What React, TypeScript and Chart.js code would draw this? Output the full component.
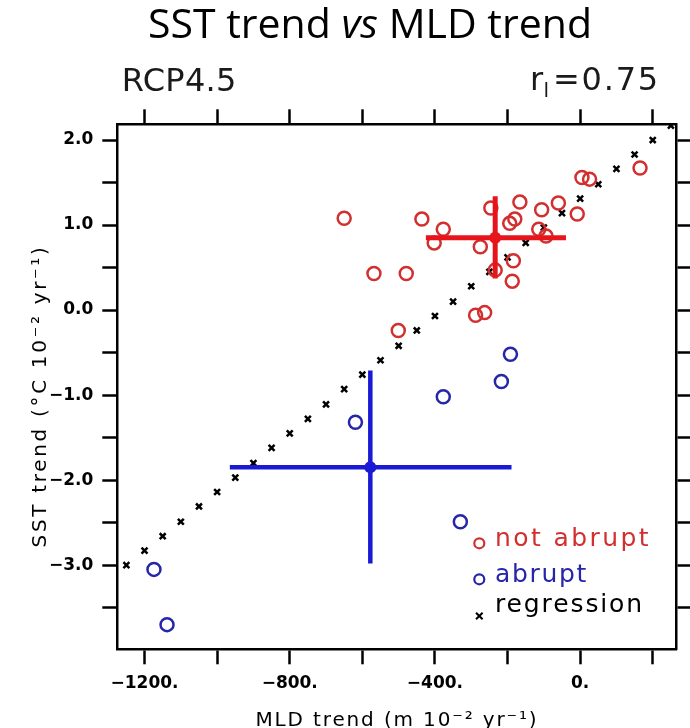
import React, { useEffect, useRef } from 'react';
import { Chart, registerables } from 'chart.js';

Chart.register(...registerables);

// ---------- data ----------
const titleParts = ['SST trend ', 'vs', ' MLD trend'];
const leftLabel = 'RCP4.5';
const rightLabelMain = 'r';
const rightLabelSub = 'l';
const rightLabelRest = '=0.75';
const xAxisTitle = 'MLD trend (m 10⁻² yr⁻¹)';
const yAxisTitle = 'SST trend (°C 10⁻² yr⁻¹)';
const legendLabels = ['not abrupt', 'abrupt', 'regression'];

const regressionX = [-1250, -1200, -1150, -1100, -1050, -1000, -950, -900, -850, -800, -750, -700, -650, -600, -550, -500, -450, -400, -350, -300, -250, -200, -150, -100, -50, 0, 50, 100, 150, 200, 250];
const regressionY = [-3.0, -2.83, -2.66, -2.49, -2.31, -2.14, -1.97, -1.8, -1.62, -1.45, -1.28, -1.11, -0.93, -0.76, -0.59, -0.42, -0.24, -0.07, 0.1, 0.28, 0.45, 0.62, 0.79, 0.97, 1.14, 1.31, 1.48, 1.66, 1.83, 2.0, 2.17];

const notAbruptX = [-650, -436, -377, -402, -275, -246, -166, -194, -180, -106, -60, -8, -114, -94, 5, 26, 165, -184, -234, -187, -568, -479, -288, -263, -501];
const notAbruptY = [1.08, 1.07, 0.95, 0.79, 0.745, 1.2, 1.27, 1.02, 1.07, 1.18, 1.26, 1.13, 0.95, 0.87, 1.56, 1.54, 1.67, 0.58, 0.47, 0.34, 0.43, 0.43, -0.06, -0.03, -0.24];

const abruptX = [-192, -217, -377, -619, -330, -1174, -1138];
const abruptY = [-0.52, -0.84, -1.02, -1.32, -2.49, -3.05, -3.7];

const notAbruptMean = [-234, 0.85];
const notAbruptXRange = [-425, -39];
const notAbruptYRange = [0.37, 1.34];
const abruptMean = [-578, -1.85];
const abruptXRange = [-965, -189];
const abruptYRange = [-2.98, -0.71];

const xRange = [-1275, 266];
const yRange = [-3.99, 2.185];
const xTickValues = [-1200, -1000, -800, -600, -400, -200, 0, 200];
const xLabelValues = [-1200, -800, -400, 0];
const yTickValues = [-3.5, -3, -2.5, -2, -1.5, -1, -0.5, 0, 0.5, 1, 1.5, 2];
const yLabelValues = [-3, -2, -1, 0, 1, 2];

// ---------- styles ----------
const RED_CIRCLE = '#d23030';
const RED_BAR = '#e8141c';
const BLUE_CIRCLE = '#2626a8';
const BLUE_BAR = '#1a1ad6';
const NCL_FONT = '"DejaVu Sans", sans-serif';

const pts = (xs: number[], ys: number[]) => xs.map((x, i) => ({ x, y: ys[i] }));
const fmtX = (v: number) => (v < 0 ? '\u2212' : '') + Math.abs(v) + '.';
const fmtY = (v: number) => (v < 0 ? '\u2212' : '') + Math.abs(v).toFixed(1);

function drawSpaced(ctx: CanvasRenderingContext2D, text: string, x: number, y: number, target: number, align: 'left' | 'center' | 'right') {
  (ctx as any).letterSpacing = '0px';
  const w = ctx.measureText(text).width;
  const n = Array.from(text).length;
  const ls = target > 0 ? Math.max(0, (target - w) / n) : 0;
  (ctx as any).letterSpacing = ls + 'px';
  const tw = target > 0 ? Math.max(target, w) : w;
  let sx = x;
  if (align === 'center') sx = x - tw / 2;
  if (align === 'right') sx = x - tw;
  ctx.textAlign = 'left';
  ctx.fillText(text, sx, y);
  (ctx as any).letterSpacing = '0px';
}

const textPlugin = {
  id: 'textPlugin',
  afterDraw(chart: any) {
    const ctx: CanvasRenderingContext2D = chart.ctx;
    const a = chart.chartArea;
    ctx.save();
    ctx.textBaseline = 'alphabetic';
    ctx.fillStyle = '#000';

    // main title with italic "vs"
    const styles = ['normal', 'italic', 'normal'];
    const widths = titleParts.map((t, i) => {
      ctx.font = `${styles[i]} 41px "Open Sans", sans-serif`;
      return ctx.measureText(t).width;
    });
    const total = widths.reduce((s, w) => s + w, 0);
    let tx = 370 - total / 2;
    titleParts.forEach((t, i) => {
      ctx.font = `${styles[i]} 41px "Open Sans", sans-serif`;
      ctx.textAlign = 'left';
      ctx.fillText(t, tx, 38);
      tx += widths[i];
    });

    // sub labels
    ctx.fillStyle = '#1a1a1a';
    ctx.font = `32px ${NCL_FONT}`;
    drawSpaced(ctx, leftLabel, a.left + 4.4, 90.7, 115, 'left');
    ctx.font = `32px ${NCL_FONT}`;
    ctx.textAlign = 'left';
    ctx.fillText(rightLabelMain, 530, 90);
    ctx.font = `20px ${NCL_FONT}`;
    ctx.fillText(rightLabelSub, 543.5, 97);
    ctx.font = `32px ${NCL_FONT}`;
    drawSpaced(ctx, rightLabelRest, 553, 90, 107, 'left');

    // axis titles
    ctx.fillStyle = '#000';
    ctx.font = `20px ${NCL_FONT}`;
    drawSpaced(ctx, xAxisTitle, (a.left + a.right) / 2, 726, 283, 'center');
    ctx.save();
    ctx.translate(46, 396);
    ctx.rotate(-Math.PI / 2);
    drawSpaced(ctx, yAxisTitle, 0, 0, 303, 'center');
    ctx.restore();

    // legend
    const mx = a.right - 197.4;
    const lx = a.right - 181.7;
    const rows = [
      { label: legendLabels[0], color: RED_CIRCLE, marker: 'circle', my: a.bottom - 106, ty: a.bottom - 103.3, w: 156 },
      { label: legendLabels[1], color: BLUE_CIRCLE, marker: 'circle', my: a.bottom - 70, ty: a.bottom - 67.6, w: 93 },
      { label: legendLabels[2], color: '#000', marker: 'cross', my: a.bottom - 33.3, ty: a.bottom - 37.6, w: 149 },
    ];
    rows.forEach((r) => {
      ctx.strokeStyle = r.color;
      ctx.fillStyle = r.color;
      if (r.marker === 'circle') {
        ctx.lineWidth = 2.2;
        ctx.beginPath();
        ctx.arc(mx, r.my, 5, 0, Math.PI * 2);
        ctx.stroke();
      } else {
        ctx.lineWidth = 2;
        const s = 3.3;
        ctx.beginPath();
        ctx.moveTo(mx - s, r.my - s);
        ctx.lineTo(mx + s, r.my + s);
        ctx.moveTo(mx + s, r.my - s);
        ctx.lineTo(mx - s, r.my + s);
        ctx.stroke();
      }
      ctx.font = `25px ${NCL_FONT}`;
      drawSpaced(ctx, r.label, lx, r.ty, r.w, 'left');
    });
    ctx.restore();
  },
};

const gridOpts = {
  display: true,
  drawOnChartArea: false,
  drawTicks: true,
  tickLength: 15,
  tickWidth: 2.5,
  tickColor: '#000',
  color: '#000',
};
const borderOpts = { display: true, color: '#000', width: 2.5 };
const tickFont = { family: NCL_FONT, size: 17, weight: 'bold' as const };

export default function App() {
  const ref = useRef<HTMLCanvasElement | null>(null);
  useEffect(() => {
    if (!ref.current) return;
    const xTicks = (s: any) => { s.ticks = xTickValues.map((value) => ({ value })); };
    const yTicks = (s: any) => { s.ticks = yTickValues.map((value) => ({ value })); };
    const chart = new Chart(ref.current, {
      type: 'scatter',
      data: {
        datasets: [
          {
            label: 'not abrupt mean x',
            data: [{ x: notAbruptXRange[0], y: notAbruptMean[1] }, { x: notAbruptXRange[1], y: notAbruptMean[1] }],
            showLine: true, pointRadius: 0, borderColor: RED_BAR, borderWidth: 5, borderCapStyle: 'butt', order: 2,
          } as any,
          {
            label: 'not abrupt mean y',
            data: [{ x: notAbruptMean[0], y: notAbruptYRange[0] }, { x: notAbruptMean[0], y: notAbruptYRange[1] }],
            showLine: true, pointRadius: 0, borderColor: RED_BAR, borderWidth: 5, borderCapStyle: 'butt', order: 2,
          } as any,
          {
            label: 'not abrupt mean',
            data: [{ x: notAbruptMean[0], y: notAbruptMean[1] }],
            pointRadius: 6, backgroundColor: RED_BAR, borderColor: RED_BAR, borderWidth: 0, order: 1,
          },
          {
            label: 'abrupt mean x',
            data: [{ x: abruptXRange[0], y: abruptMean[1] }, { x: abruptXRange[1], y: abruptMean[1] }],
            showLine: true, pointRadius: 0, borderColor: BLUE_BAR, borderWidth: 4.5, borderCapStyle: 'butt', order: 2,
          } as any,
          {
            label: 'abrupt mean y',
            data: [{ x: abruptMean[0], y: abruptYRange[0] }, { x: abruptMean[0], y: abruptYRange[1] }],
            showLine: true, pointRadius: 0, borderColor: BLUE_BAR, borderWidth: 4.5, borderCapStyle: 'butt', order: 2,
          } as any,
          {
            label: 'abrupt mean',
            data: [{ x: abruptMean[0], y: abruptMean[1] }],
            pointRadius: 6, backgroundColor: BLUE_BAR, borderColor: BLUE_BAR, borderWidth: 0, order: 1,
          },
          {
            label: legendLabels[2],
            data: pts(regressionX, regressionY),
            pointStyle: 'crossRot', pointRadius: 4.2, borderWidth: 2.5, borderColor: '#000', order: 5,
          },
          {
            label: legendLabels[0],
            data: pts(notAbruptX, notAbruptY),
            pointStyle: 'circle', pointRadius: 6.5, borderWidth: 2.5, borderColor: RED_CIRCLE, backgroundColor: 'rgba(0,0,0,0)', order: 3,
          },
          {
            label: legendLabels[1],
            data: pts(abruptX, abruptY),
            pointStyle: 'circle', pointRadius: 6.5, borderWidth: 2.5, borderColor: BLUE_CIRCLE, backgroundColor: 'rgba(0,0,0,0)', order: 3,
          },
        ],
      },
      options: {
        responsive: false,
        animation: false,
        events: [],
        layout: { padding: 0 },
        plugins: { legend: { display: false }, tooltip: { enabled: false }, title: { display: false } },
        scales: {
          x: {
            type: 'linear', position: 'bottom', min: xRange[0], max: xRange[1],
            border: borderOpts, grid: gridOpts,
            ticks: {
              autoSkip: false, maxRotation: 0, padding: 9, color: '#000', font: tickFont,
              callback: (v: any) => (xLabelValues.includes(Number(v)) ? fmtX(Number(v)) : ''),
            },
            afterBuildTicks: xTicks,
            afterFit: (s: any) => { s.height = 78.7; },
          },
          x2: {
            type: 'linear', position: 'top', min: xRange[0], max: xRange[1],
            border: borderOpts, grid: gridOpts,
            ticks: { display: false, autoSkip: false },
            afterBuildTicks: xTicks,
            afterFit: (s: any) => { s.height = 124.3; },
          },
          y: {
            type: 'linear', position: 'left', min: yRange[0], max: yRange[1],
            border: borderOpts, grid: gridOpts,
            ticks: {
              autoSkip: false, padding: 9, color: '#000', font: tickFont,
              callback: (v: any) => (yLabelValues.some((l) => Math.abs(l - Number(v)) < 1e-9) ? fmtY(Number(v)) : ''),
            },
            afterBuildTicks: yTicks,
            afterFit: (s: any) => { s.width = 117.3; },
          },
          y2: {
            type: 'linear', position: 'right', min: yRange[0], max: yRange[1],
            border: borderOpts, grid: gridOpts,
            ticks: { display: false, autoSkip: false },
            afterBuildTicks: yTicks,
            afterFit: (s: any) => { s.width = 13.3; },
          },
        },
      } as any,
      plugins: [textPlugin],
    });
    return () => chart.destroy();
  }, []);

  return (
    <div style={{ position: 'absolute', left: 0, top: 0, width: 690, height: 728, background: '#fff' }}>
      <canvas ref={ref} width={690} height={728} style={{ display: 'block', width: 690, height: 728 }} />
    </div>
  );
}
